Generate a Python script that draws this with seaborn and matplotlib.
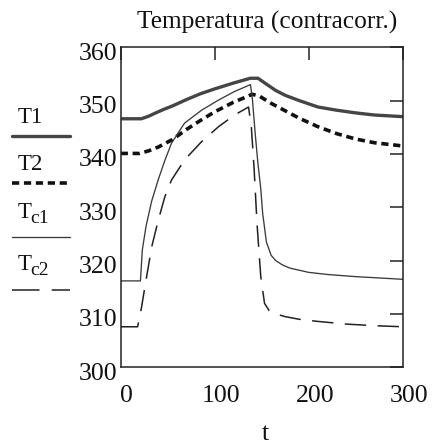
import matplotlib
matplotlib.use("Agg")
import matplotlib.pyplot as plt
import seaborn as sns
from matplotlib.lines import Line2D
from matplotlib.transforms import ScaledTranslation

# ---- data ----
t_T1 = [0, 22, 30, 36, 45, 55, 70, 85, 100, 120, 138, 146, 155, 165, 175, 190, 210, 230, 250, 270, 300]
T1 = [346.6, 346.6, 347.1, 347.6, 348.3, 349.0, 350.2, 351.3, 352.2, 353.3, 354.2, 354.2, 353.1, 351.9, 351.0, 350.0, 348.8, 348.2, 347.7, 347.3, 347.0]

t_T2 = [0, 20, 30, 40, 55, 70, 85, 100, 120, 135, 140, 148, 160, 175, 190, 210, 230, 250, 270, 300]
T2 = [340.1, 340.1, 340.6, 341.3, 342.7, 344.6, 346.3, 347.9, 349.7, 350.8, 351.2, 350.8, 349.5, 348.1, 346.7, 345.1, 343.8, 342.8, 342.1, 341.5]

t_Tc1 = [0, 21, 23, 27, 33, 40, 47, 54, 68, 86, 104, 121, 138, 140, 143, 146, 149, 151, 155, 160, 165, 172, 180, 200, 220, 250, 300]
Tc1 = [316.2, 316.2, 322.0, 326.5, 331.2, 335.2, 338.8, 342.0, 345.8, 348.2, 350.1, 351.7, 353.0, 350.5, 344.0, 338.2, 333.5, 328.9, 323.5, 321.0, 320.0, 319.2, 318.6, 317.8, 317.4, 317.0, 316.5]

t_Tc2 = [0, 18, 22, 27, 33, 40, 47, 54, 68, 86, 104, 121, 136, 139, 142, 145, 149, 153, 158, 165, 175, 190, 210, 240, 270, 300]
Tc2 = [307.6, 307.6, 311.1, 316.4, 322.6, 327.6, 332.0, 335.1, 338.9, 342.3, 345.1, 347.3, 348.8, 345.0, 337.0, 327.0, 317.0, 312.0, 310.6, 310.0, 309.5, 309.0, 308.6, 308.1, 307.8, 307.6]

x_ticks = [0, 100, 200, 300]
y_ticks = [300, 310, 320, 330, 340, 350, 360]
title = "Temperatura (contracorr.)"
xlabel = "t"

# ---- style ----
sns.set_style("white")
plt.rcParams["font.family"] = ["Liberation Serif", "DejaVu Serif"]

W, H = 433, 444
fig = plt.figure(figsize=(W / 100, H / 100), dpi=100)
ax = fig.add_axes([120.7 / W, 1 - 367.3 / H, 282.0 / W, 320.0 / H])

sns.lineplot(x=t_T1, y=T1, ax=ax, color="#454545", linewidth=2.4, sort=False, estimator=None)
sns.lineplot(x=t_T2, y=T2, ax=ax, color="#111111", linewidth=2.6, sort=False, estimator=None)
sns.lineplot(x=t_Tc1, y=Tc1, ax=ax, color="#3a3a3a", linewidth=0.95, sort=False, estimator=None)
sns.lineplot(x=t_Tc2, y=Tc2, ax=ax, color="#222222", linewidth=1.1, sort=False, estimator=None)
lines = ax.get_lines()
lines[1].set_dashes((2.0, 1.3))
lines[3].set_dashes((14, 7.5))

ax.set_xlim(0, 300)
ax.set_ylim(300, 360)
ax.set_xticks(x_ticks)
ax.set_yticks(y_ticks)
ax.set_xlabel("")
ax.set_ylabel("")
for s in ax.spines.values():
    s.set_visible(True)
    s.set_color("#222222")
    s.set_linewidth(1.1)

ax.tick_params(direction="in", length=9.4, width=1.1, color="#222222",
               top=True, right=True, labelsize=18.5, labelcolor="#111111")
ax.tick_params(axis="x", pad=12.5)
ax.tick_params(axis="y", pad=2.5)

for lab in ax.get_xticklabels():
    lab.set_transform(lab.get_transform() + ScaledTranslation(0.06, 0, fig.dpi_scale_trans))
for lab in ax.get_yticklabels():
    lab.set_transform(lab.get_transform() + ScaledTranslation(0, -0.04, fig.dpi_scale_trans))

def fx(px):
    return px / W

def fy(py):
    return 1 - py / H

fig.text(fx(267.5), fy(28.3), title, ha="center", va="baseline", fontsize=18.3, color="#111111")
fig.text(fx(265), fy(440), xlabel, ha="center", va="baseline", fontsize=18.5, color="#111111")

# ---- legend on the left ----
fig.text(fx(18), fy(123), "T1", ha="left", va="baseline", fontsize=16.5, color="#111111")
fig.add_artist(Line2D([fx(12), fx(70)], [fy(136), fy(136)], color="#454545", linewidth=2.4,
                      transform=fig.transFigure))
fig.text(fx(18), fy(170), "T2", ha="left", va="baseline", fontsize=16.5, color="#111111")
fig.add_artist(Line2D([fx(12), fx(70)], [fy(183), fy(183)], color="#111111", linewidth=2.6,
                      dashes=(2.0, 1.3), transform=fig.transFigure))
fig.text(fx(18), fy(218), "T", ha="left", va="baseline", fontsize=16.5, color="#111111")
fig.text(fx(30), fy(223), "c1", ha="left", va="baseline", fontsize=14, color="#111111")
fig.add_artist(Line2D([fx(12), fx(70)], [fy(237), fy(237)], color="#3a3a3a", linewidth=0.95,
                      transform=fig.transFigure))
fig.text(fx(18), fy(270), "T", ha="left", va="baseline", fontsize=16.5, color="#111111")
fig.text(fx(30), fy(275), "c2", ha="left", va="baseline", fontsize=14, color="#111111")
fig.add_artist(Line2D([fx(12), fx(70)], [fy(290), fy(290)], color="#222222", linewidth=1.1,
                      dashes=(18, 8), transform=fig.transFigure))

fig.savefig("out.png", dpi=100, facecolor="white")
